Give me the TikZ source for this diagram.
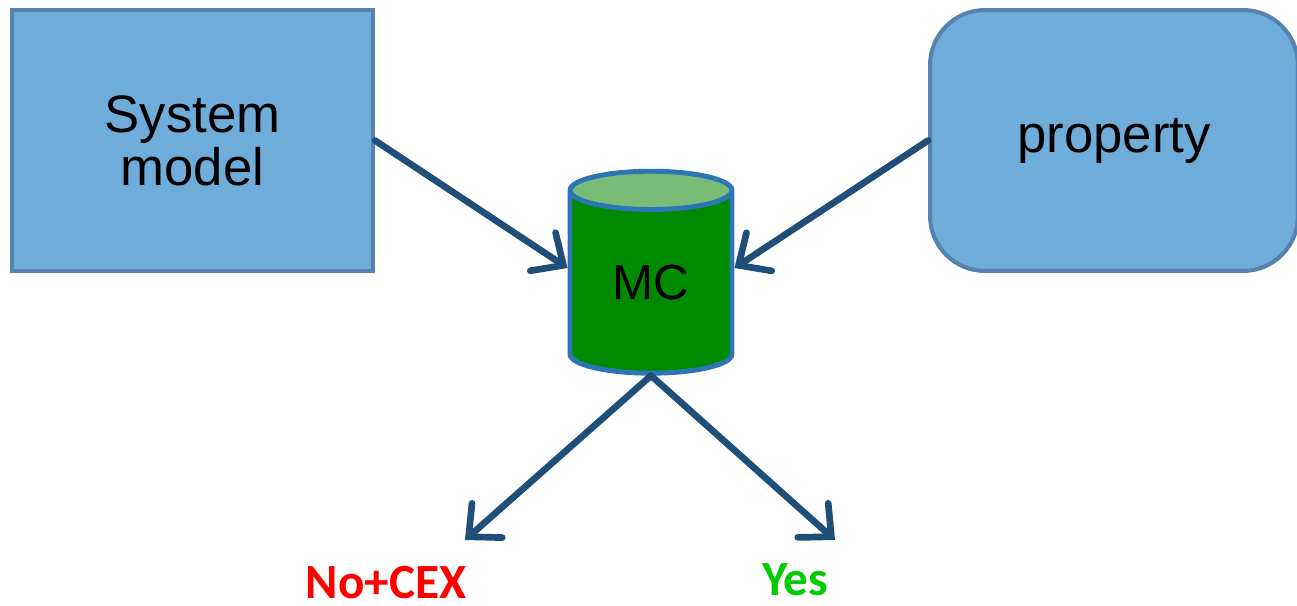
\documentclass[tikz,border=0pt]{standalone}
\usepackage{fontspec}
\setmainfont{Liberation Sans}
\newfontfamily\labelfont{Carlito}
\usetikzlibrary{arrows.meta,shapes.geometric}
\definecolor{boxfill}{RGB}{111,172,217}
\definecolor{boxline}{RGB}{85,130,175}
\definecolor{arrowblue}{RGB}{31,78,121}
\definecolor{mcgreen}{RGB}{0,138,0}
\definecolor{mctop}{RGB}{120,188,120}
\definecolor{mcline}{RGB}{46,117,182}
\definecolor{nored}{RGB}{255,0,0}
\definecolor{yesgreen}{RGB}{0,204,0}

\begin{document}
\begin{tikzpicture}[x=0.02cm,y=-0.02cm,
  inputbox/.style={draw=boxline,fill=boxfill,line width=2.3pt,align=center,
    font=\fontsize{30}{30}\selectfont,minimum height=5.22cm},
  flow/.style={draw=arrowblue,line width=3.8pt,line cap=round,
    -{Straight Barb[length=14pt,width=26pt,line cap=round]}},
  result/.style={font=\labelfont\bfseries\fontsize{28}{28}\selectfont,inner sep=0pt}]
\useasboundingbox (0,0) rectangle (1297,605);
% inputs
\node[inputbox,minimum width=7.22cm] (sys) at (192.5,140.5) {System\\model};
\node[inputbox,minimum width=7.36cm,rounded corners=1.1cm] (prop) at (1114,140.5) {property};
% model checker
\node[cylinder,shape border rotate=90,aspect=0.5,draw=mcline,line width=2.8pt,
  cylinder uses custom fill,cylinder body fill=mcgreen,cylinder end fill=mctop,
  minimum width=3.24cm,minimum height=4.04cm,inner sep=0pt,
  font=\fontsize{28}{28}\selectfont] (mc) at (651,283) {MC};
% results
\node[result,text=nored] (no) at (386,583) {No+CEX};
\node[result,text=yesgreen] (yes) at (795,580) {Yes};
\coordinate (notip) at (465,540);
\coordinate (yestip) at (835,540);
\draw[flow] (sys.east) -- ([yshift=0.3cm]mc.west);
\draw[flow] (prop.west) -- ([yshift=0.3cm]mc.east);
\draw[flow] (mc.south) -- (notip);
\draw[flow] (mc.south) -- (yestip);
\end{tikzpicture}
\end{document}
